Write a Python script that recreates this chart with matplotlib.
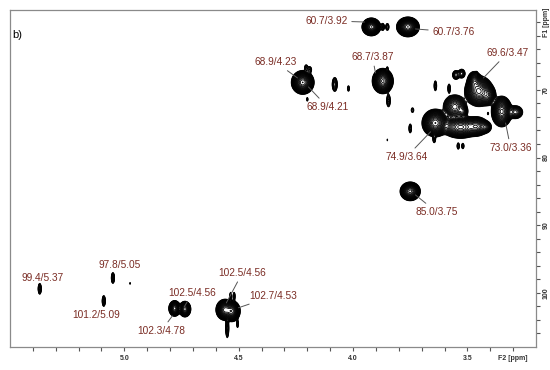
import numpy as np
import matplotlib
matplotlib.use("Agg")
import matplotlib.pyplot as plt

plt.rcParams['font.family'] = ['Liberation Sans', 'DejaVu Sans']

# cross peaks: 1H shift, 13C shift, height, half-widths (ppm)
peak_h = [3.92, 3.76, 3.87, 3.85,
          4.22, 4.205, 4.19, 4.20, 4.08, 4.02, 3.87, 3.845, 3.85,
          3.45, 3.47, 3.41, 3.55, 3.525, 3.46, 3.64, 3.555, 3.52,
          3.64, 3.53, 3.46, 3.42, 3.35, 3.29, 3.74, 3.75, 3.85,
          3.645, 3.54, 3.52, 3.41, 3.58,
          3.75,
          5.37, 5.09, 5.05, 4.975, 4.78, 4.735, 4.56, 4.53,
          4.55, 4.535, 4.52, 4.505]
peak_c = [60.7, 60.7, 60.7, 60.7,
          68.9, 66.7, 67.0, 71.4, 69.2, 69.8, 68.7, 71.6, 66.8,
          70.2, 68.8, 70.8, 67.8, 67.6, 67.6, 69.4, 72.5, 73.2,
          74.9, 75.5, 75.4, 75.5, 73.2, 73.3, 73.0, 75.7, 77.4,
          77.3, 78.3, 78.3, 73.5, 69.8,
          85.0,
          99.4, 101.2, 97.8, 98.6, 102.3, 102.4, 102.5, 102.7,
          105.2, 100.5, 100.5, 104.6]
peak_amp = [80, 80, 3, 3,
            80, 2.5, 3, 1.8, 6, 2, 70, 4, 1.5,
            60, 25, 20, 6, 6, 1.5, 3, 25, 10,
            80, 50, 30, 8, 60, 10, 2, 3, 1.3,
            3, 2.5, 2.5, 1.5, 3,
            50,
            5, 5, 5, 1.5, 30, 30, 60, 60,
            5, 3, 3, 2.5]
peak_wh = [0.014, 0.017, 0.005, 0.005,
           0.017, 0.005, 0.006, 0.003, 0.006, 0.004, 0.016, 0.005, 0.003,
           0.022, 0.012, 0.014, 0.008, 0.008, 0.003, 0.004, 0.02, 0.01,
           0.02, 0.03, 0.02, 0.012, 0.016, 0.015, 0.005, 0.004, 0.002,
           0.004, 0.004, 0.004, 0.003, 0.004,
           0.016,
           0.004, 0.004, 0.004, 0.002, 0.01, 0.01, 0.014, 0.013,
           0.004, 0.003, 0.003, 0.003]
peak_wc = [0.45, 0.5, 0.35, 0.35,
           0.6, 0.3, 0.3, 0.25, 0.55, 0.35, 0.65, 0.55, 0.2,
           0.8, 0.6, 0.6, 0.35, 0.35, 0.2, 0.5, 0.7, 0.4,
           0.7, 0.6, 0.55, 0.4, 0.8, 0.45, 0.3, 0.45, 0.2,
           0.35, 0.35, 0.3, 0.2, 0.45,
           0.5,
           0.45, 0.45, 0.45, 0.15, 0.45, 0.45, 0.55, 0.55,
           0.8, 0.4, 0.4, 0.4]

# assignments: text, text position (H, C), leader tip (H, C) or None
labels = ["60.7/3.92", "60.7/3.76", "68.9/4.23", "68.9/4.21", "68.7/3.87",
          "69.6/3.47", "73.0/3.36", "74.9/3.64", "85.0/3.75", "99.4/5.37",
          "97.8/5.05", "101.2/5.09", "102.5/4.56", "102.3/4.78",
          "102.5/4.56", "102.7/4.53"]
label_h = [4.116, 3.561, 4.339, 4.112, 3.915, 3.325, 3.311, 3.766, 3.635,
           5.359, 5.022, 5.122, 4.703, 4.838, 4.484, 4.348]
label_c = [59.8, 61.45, 65.9, 72.53, 65.14, 64.55, 78.58, 79.9, 88.04,
           97.79, 95.87, 103.25, 100.0, 105.6, 97.05, 100.45]
tip_h = [3.950, 3.727, 4.243, 4.195, 3.902, 3.43, 3.333, 3.661, 3.727,
         None, None, None, 4.738, 4.79, 4.554, 4.501]
tip_c = [59.97, 61.0, 68.24, 69.57, 67.5, 68.24, 74.9, 76.2, 85.53,
         None, None, None, 102.07, 103.4, 101.48, 102.2]

x_ticks = np.round(np.arange(3.3, 5.45, 0.1), 1)
x_ticklabels = {5.0: "5.0", 4.5: "4.5", 4.0: "4.0", 3.5: "3.5", 3.3: "F2 [ppm]"}
y_ticks = np.arange(60, 107, 2)
y_ticklabels = {60: "F1 [ppm]", 70: "70", 80: "80", 90: "90", 100: "100"}

# build the 2D spectrum
h = np.linspace(3.2, 5.5, 1600)
c = np.linspace(58, 108, 1100)
H, C = np.meshgrid(h, c)
Z = np.zeros_like(H)
for ph, pc, a, wh, wc in zip(peak_h, peak_c, peak_amp, peak_wh, peak_wc):
    Z += a * np.exp(-0.5 * (((H - ph) / wh) ** 2 + ((C - pc) / wc) ** 2))

fig = plt.figure(figsize=(5.5, 3.7), dpi=100)
ax = fig.add_axes([10 / 550, 1 - 347 / 370, 526 / 550, 337 / 370])
levels = 1.0 * 1.2 ** np.arange(28)
ax.contour(H, C, Z, levels=levels, colors='black', linewidths=0.6)

ax.set_xlim(5.5, 3.2)
ax.set_ylim(108, 58.2)

for txt, lh, lc, th, tc in zip(labels, label_h, label_c, tip_h, tip_c):
    if th is None:
        ax.text(lh, lc, txt, color='#7a2c24', fontsize=7.3,
                ha='center', va='center')
    else:
        ax.annotate(txt, xy=(th, tc), xytext=(lh, lc), color='#7a2c24',
                    fontsize=7.3, ha='center', va='center',
                    arrowprops=dict(arrowstyle='-', color='#555555', lw=0.7,
                                    shrinkA=1, shrinkB=0))

ax.text(0.004, 0.926, "b)", transform=ax.transAxes, fontsize=8,
        ha='left', va='center')

# Bruker-style frame: ticks on bottom and right only
for s in ax.spines.values():
    s.set_color('#8a8a8a')
    s.set_linewidth(0.9)
ax.yaxis.tick_right()
ax.set_xticks(x_ticks)
ax.set_xticklabels([x_ticklabels.get(v, "") for v in x_ticks])
ax.set_yticks(y_ticks)
ax.set_yticklabels([y_ticklabels.get(int(v), "") for v in y_ticks],
                   rotation=90, va='center')
ax.tick_params(axis='both', direction='out', length=3, width=0.8,
               color='#555555', labelsize=5, labelcolor='#333333')
ax.tick_params(axis='x', pad=3)
ax.tick_params(axis='y', pad=2)
for t in ax.get_xticklabels() + ax.get_yticklabels():
    t.set_fontweight('bold')

fig.savefig("out.png", dpi=100)
